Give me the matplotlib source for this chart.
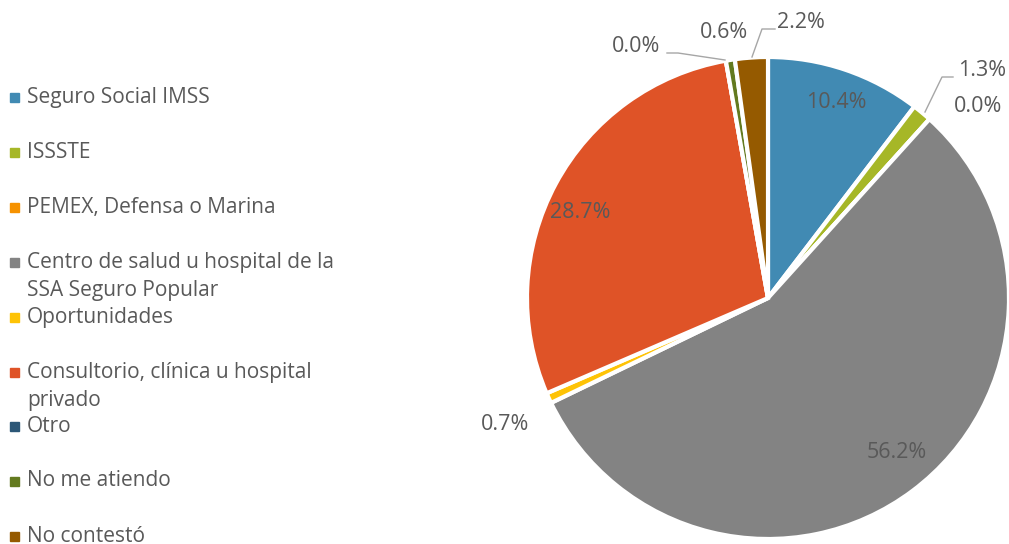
import matplotlib.pyplot as plt
from matplotlib.patches import Rectangle

plt.rcParams['font.family'] = ['Open Sans', 'DejaVu Sans']

categories = ["Seguro Social IMSS", "ISSSTE", "PEMEX, Defensa o Marina",
              "Centro de salud u hospital de la\nSSA Seguro Popular", "Oportunidades",
              "Consultorio, clínica u hospital\nprivado", "Otro", "No me atiendo",
              "No contestó"]
values = [10.4, 1.3, 0.0, 56.2, 0.7, 28.7, 0.0, 0.6, 2.2]
labels = ["10.4%", "1.3%", "0.0%", "56.2%", "0.7%", "28.7%", "0.0%", "0.6%", "2.2%"]
colors = ["#418AB3", "#A6B727", "#F69200", "#838383", "#FEC306",
          "#DF5327", "#2C5777", "#637A1F", "#955A00"]

# label positions in pixels (x, y from top)
label_pos = [(836, 103), (982, 70), (978, 107), (897, 453), (505, 425),
             (580, 212), (636, 47), (724, 33), (801, 22)]
leaders = {1: [(925, 112), (942, 77), (953, 77)],
           6: [(725, 60), (678, 53), (667, 53)],
           8: [(752, 57), (762, 29), (775, 29)]}
legend_y = [97, 152, 207, 262, 317, 372, 426, 481, 536]

W, H = 1009, 544
fig = plt.figure(figsize=(W / 100, H / 100), dpi=100)
ax = fig.add_axes([0, 0, 1, 1])
ax.set_aspect('equal')
ax.axis('off')

ax.pie(values, colors=colors, startangle=90, counterclock=False,
       center=(768, H - 298), radius=241,
       wedgeprops=dict(edgecolor='white', linewidth=3))
ax.set_xlim(0, W)
ax.set_ylim(0, H)

txt = '#595959'
for lab, (x, y) in zip(labels, label_pos):
    ax.text(x, H - y, lab, ha='center', va='center', fontsize=15.5, color=txt)
for pts in leaders.values():
    ax.plot([p[0] for p in pts], [H - p[1] for p in pts], color='#A6A6A6', lw=1)

for cat, col, y in zip(categories, colors, legend_y):
    ax.add_patch(Rectangle((10, H - y - 4.5), 9, 9, color=col))
    if '\n' in cat:
        ax.text(27, H - y + 10, cat, ha='left', va='top', fontsize=15,
                color=txt, linespacing=1.42)
    else:
        ax.text(27, H - y, cat, ha='left', va='center', fontsize=15, color=txt)

fig.savefig('out.png', dpi=100)
